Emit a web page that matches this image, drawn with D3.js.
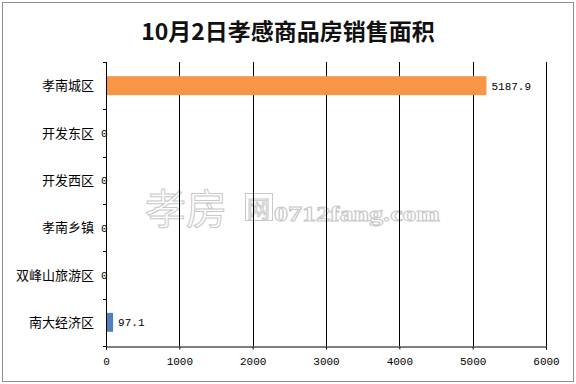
<!DOCTYPE html>
<html><head><meta charset="utf-8">
<script src="https://cdn.jsdelivr.net/npm/d3@7"></script>
<style>body{margin:0;background:#fff}svg{display:block}</style>
</head><body><svg id="c" width="576" height="384"></svg>
<script>
const title = "10月2日孝感商品房销售面积";
const categories = ["孝南城区","开发东区","开发西区","孝南乡镇","双峰山旅游区","南大经济区"];
const values = [5187.9, 0, 0, 0, 0, 97.1];
const barColors = ["#F79646","#4F81BD","#4F81BD","#4F81BD","#4F81BD","#4F81BD"];
const xTicks = [0,1000,2000,3000,4000,5000,6000];

const svg = d3.select("#c");
const cjk = "'Noto Sans CJK SC','Noto Sans',sans-serif";
const mono = "'Liberation Mono','DejaVu Sans Mono',monospace";

svg.append("rect").attr("x",2.5).attr("y",2.5).attr("width",571).attr("height",379)
  .attr("fill","#fff").attr("stroke","#8c8c8c").attr("stroke-width",1);

svg.append("text").attr("x",288).attr("y",40).attr("text-anchor","middle")
  .style("font-family",cjk).style("font-size","23px").style("font-weight","bold")
  .attr("fill","#111").text(title);

const x = d3.scaleLinear().domain([0,6000]).range([106,546]);
const y = d3.scaleBand().domain(categories).range([62,346]).paddingInner(0.6).paddingOuter(0.3);

// watermark
const wm = svg.append("g").attr("fill","#fff").attr("stroke","#c8c8c8").attr("stroke-width",1);
wm.append("text").attr("x",145).attr("y",224).style("font-family",cjk).style("font-size","41px").text("孝房");
wm.append("rect").attr("x",245.5).attr("y",193.5).attr("width",27).attr("height",27).attr("fill","none");
wm.append("text").attr("x",247).attr("y",217).style("font-family",cjk).style("font-size","23px").text("网");
wm.append("text").attr("x",274).attr("y",221).attr("textLength",166).attr("lengthAdjust","spacingAndGlyphs")
  .style("font-family","'Liberation Serif',serif")
  .style("font-weight","bold").style("font-size","22px").text("0712fang.com");

// gridlines
svg.append("g").selectAll("line").data(xTicks.slice(1)).join("line")
  .attr("x1",d=>Math.round(x(d))+0.5).attr("x2",d=>Math.round(x(d))+0.5)
  .attr("y1",62).attr("y2",346).attr("stroke","#000");

// bars
svg.append("g").selectAll("rect").data(values).join("rect")
  .attr("x",x(0)).attr("y",(d,i)=>y(categories[i]))
  .attr("width",d=>x(d)-x(0)).attr("height",y.bandwidth())
  .attr("fill",(d,i)=>barColors[i]);

// x axis
const xa = svg.append("g").attr("transform","translate(0,346.5)")
  .call(d3.axisBottom(x).tickValues(xTicks).tickSize(3).tickFormat(d3.format("d")));
xa.select(".domain").attr("stroke","#000");
xa.selectAll(".tick line").attr("stroke","#000");
xa.selectAll("text").style("font-family",mono).style("font-size","11px").attr("fill","#000").attr("dy","1.1em");

// y axis
const yb = categories.map(c=>y(c) - (y.step()-y.bandwidth())/2);
yb.push(346);
svg.append("line").attr("x1",106.5).attr("x2",106.5).attr("y1",62).attr("y2",346).attr("stroke","#000");
svg.append("g").selectAll("line").data(yb).join("line")
  .attr("x1",103).attr("x2",106.5).attr("y1",d=>Math.round(d)+0.5).attr("y2",d=>Math.round(d)+0.5).attr("stroke","#000");

svg.append("g").selectAll("text").data(categories).join("text")
  .attr("x",94).attr("y",d=>y(d)+y.bandwidth()/2).attr("dy","0.35em").attr("text-anchor","end")
  .style("font-family",cjk).style("font-size","13px").attr("fill","#000").text(d=>d);

// value labels
svg.append("g").selectAll("text").data(values).join("text")
  .attr("x",d=>d>0 ? x(d)+5 : x(0)-5)
  .attr("y",(d,i)=>y(categories[i])+y.bandwidth()/2).attr("dy","0.35em")
  .style("font-family",mono).style("font-size","11px").attr("fill","#000")
  .text(d=>d===0?"0":d3.format(".1f")(d));
</script></body></html>
